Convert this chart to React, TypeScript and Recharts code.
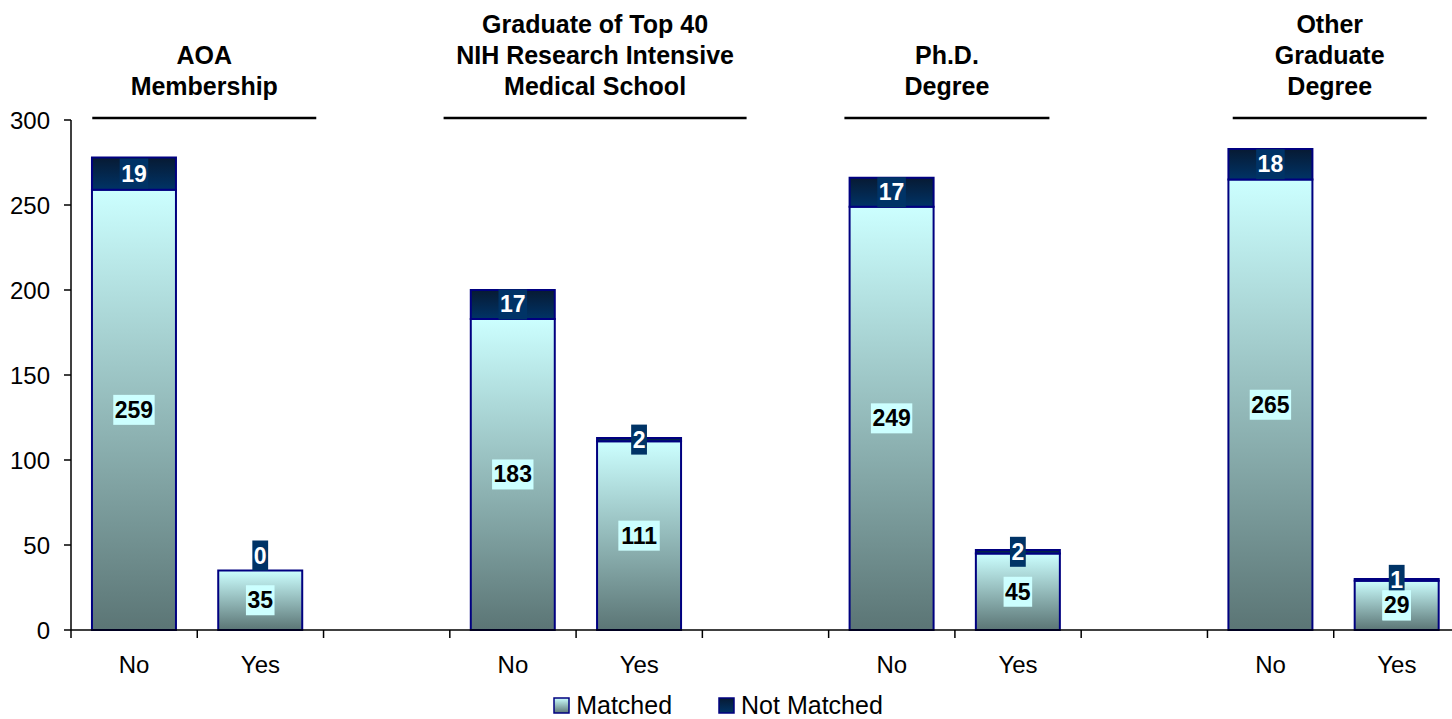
import React from "react";
import { BarChart, Bar, XAxis, YAxis, Legend, LabelList } from "recharts";

// slots: 4 groups of No/Yes, with empty spacer slots between groups
const categories = ["No", "Yes", "", "No", "Yes", "", "No", "Yes", "", "No", "Yes"];
const matched = [259, 35, null, 183, 111, null, 249, 45, null, 265, 29];
const notMatched = [19, 0, null, 17, 2, null, 17, 2, null, 18, 1];
const groupTitles = [
  "AOA\nMembership",
  "",
  "",
  "Graduate of Top 40\nNIH Research Intensive\nMedical School",
  "",
  "",
  "Ph.D.\nDegree",
  "",
  "",
  "Other\nGraduate\nDegree",
  "",
];
const yTicks = [0, 50, 100, 150, 200, 250, 300];

// header placement tweaks (shift from group centre, rule width)
const headerShift: Record<number, number> = { 0: 7, 3: 19, 6: -8, 9: -4 };
const headerRule: Record<number, number> = { 0: 224, 3: 303, 6: 205, 9: 194 };

const CHART_W = 1470;
const CHART_H = 719;
const Y_AXIS_W = 71;
const MARGIN_R = 10;
const TOP_H = 120;
const LEGEND_H = 28;
const X_AXIS_H = 61;
const PLOT_W = CHART_W - Y_AXIS_W - MARGIN_R;
const STEP = PLOT_W / categories.length;
const AXIS_Y = CHART_H - LEGEND_H - X_AXIS_H;
const FONT = "'Liberation Sans', Arial, sans-serif";

const data = categories.map((label, i) => ({
  key: `c${i}`,
  label,
  title: groupTitles[i],
  matched: matched[i],
  notMatched: notMatched[i],
}));

// which category slot a bar centre falls in
const slotOf = (cx: number) => Math.floor((cx - Y_AXIS_W) / STEP);

function BottomTick(props: any) {
  const { x, index } = props;
  const left = x - STEP / 2;
  return (
    <g>
      <line x1={left} x2={left} y1={AXIS_Y} y2={AXIS_Y + 8} stroke="#000" strokeWidth={1.5} />
      {index === categories.length - 1 && (
        <line x1={x + STEP / 2} x2={x + STEP / 2} y1={AXIS_Y} y2={AXIS_Y + 8} stroke="#000" strokeWidth={1.5} />
      )}
      <text x={x} y={AXIS_Y + 43} textAnchor="middle" fontSize={24} fontFamily={FONT} fill="#000">
        {categories[index]}
      </text>
    </g>
  );
}

function HeaderTick(props: any) {
  const { x, index } = props;
  const title = groupTitles[index];
  if (!title) return <g />;
  const cx = x + STEP / 2 + (headerShift[index] ?? 0);
  const lines = title.split("\n");
  const w = headerRule[index] ?? 220;
  return (
    <g>
      {lines.map((ln, k) => (
        <text
          key={k}
          x={cx}
          y={95 - (lines.length - 1 - k) * 31}
          textAnchor="middle"
          fontSize={25}
          fontWeight="bold"
          fontFamily={FONT}
          fill="#000"
        >
          {ln}
        </text>
      ))}
      <line x1={cx - w / 2} x2={cx + w / 2} y1={118} y2={118} stroke="#000" strokeWidth={2.5} />
    </g>
  );
}

function valueBox(cx: number, cy: number, txt: string, bg: string, fg: string) {
  const bw = txt.length * 12.8 + 3;
  const bh = 30;
  return (
    <g>
      <rect x={cx - bw / 2} y={cy - bh / 2} width={bw} height={bh} fill={bg} />
      <text
        x={cx}
        y={cy + 8}
        textAnchor="middle"
        fontSize={23}
        fontWeight="bold"
        fontFamily={FONT}
        fill={fg}
      >
        {txt}
      </text>
    </g>
  );
}

const DARK_BOX = "#003366";
const LIGHT_BOX = "#ccffff";

// matched labels; also draws a zero "not matched" label sitting on top of the bar
function MatchedLabel(props: any) {
  const { x, y, width, height, value } = props;
  if (value === null || value === undefined) return null;
  const cx = x + width / 2;
  const nm = notMatched[slotOf(cx)];
  return (
    <g>
      {valueBox(cx, y + height / 2, String(value), LIGHT_BOX, "#000")}
      {nm === 0 && valueBox(cx, y - 15, "0", DARK_BOX, "#fff")}
    </g>
  );
}

// not matched labels; if one overlaps the matched label below, the matched one stays on top
function NotMatchedLabel(props: any) {
  const { x, y, width, height, value } = props;
  if (value === null || value === undefined || value === 0) return null;
  const cx = x + width / 2;
  const cy = y + height / 2;
  const matchedCy = (y + height + AXIS_Y) / 2;
  const m = matched[slotOf(cx)];
  return (
    <g>
      {valueBox(cx, cy, String(value), DARK_BOX, "#fff")}
      {m != null && Math.abs(matchedCy - cy) < 30 && valueBox(cx, matchedCy, String(m), LIGHT_BOX, "#000")}
    </g>
  );
}

function LegendContent() {
  const items = [
    { name: "Matched", from: "#ccffff", to: "#5b7575" },
    { name: "Not Matched", from: "#071a33", to: "#003366" },
  ];
  return (
    <div
      style={{
        display: "flex",
        justifyContent: "center",
        alignItems: "center",
        height: LEGEND_H,
        paddingRight: 24,
        fontFamily: FONT,
        fontSize: 25,
        color: "#000",
      }}
    >
      {items.map((it, i) => (
        <div key={it.name} style={{ display: "flex", alignItems: "center", marginLeft: i ? 46 : 0 }}>
          <svg width={17} height={17} style={{ marginRight: 6 }}>
            <defs>
              <linearGradient id={`lg${i}`} x1="0" y1="0" x2="0" y2="1">
                <stop offset="0%" stopColor={it.from} />
                <stop offset="100%" stopColor={it.to} />
              </linearGradient>
            </defs>
            <rect x={1} y={1} width={15} height={15} fill={`url(#lg${i})`} stroke="#000080" strokeWidth={1.5} />
          </svg>
          <span>{it.name}</span>
        </div>
      ))}
    </div>
  );
}

export default function App() {
  return (
    <div
      style={{
        position: "absolute",
        left: 0,
        top: 0,
        width: 1452,
        height: CHART_H,
        overflow: "hidden",
        background: "#fff",
      }}
    >
      <BarChart
        width={CHART_W}
        height={CHART_H}
        data={data}
        margin={{ top: 0, right: MARGIN_R, left: 0, bottom: 0 }}
        barCategoryGap="16.6%"
      >
        <defs>
          <linearGradient id="matchedGrad" x1="0" y1="0" x2="0" y2="1">
            <stop offset="0%" stopColor="#ccffff" />
            <stop offset="100%" stopColor="#5b7575" />
          </linearGradient>
          <linearGradient id="notMatchedGrad" x1="0" y1="0" x2="0" y2="1">
            <stop offset="0%" stopColor="#071a33" />
            <stop offset="100%" stopColor="#003366" />
          </linearGradient>
        </defs>
        <XAxis
          xAxisId="top"
          orientation="top"
          dataKey="key"
          height={TOP_H}
          axisLine={false}
          tickLine={false}
          interval={0}
          tick={<HeaderTick />}
        />
        <XAxis
          dataKey="key"
          height={X_AXIS_H}
          interval={0}
          tickLine={false}
          axisLine={{ stroke: "#000", strokeWidth: 1.5 }}
          tick={<BottomTick />}
        />
        <YAxis
          width={Y_AXIS_W}
          domain={[0, 300]}
          ticks={yTicks}
          interval={0}
          tickSize={7}
          tickMargin={14}
          axisLine={{ stroke: "#000", strokeWidth: 1.5 }}
          tickLine={{ stroke: "#000", strokeWidth: 1.5 }}
          tick={{ fill: "#000", fontSize: 24, fontFamily: FONT }}
        />
        <Legend verticalAlign="bottom" height={LEGEND_H} content={<LegendContent />} />
        <Bar
          dataKey="matched"
          name="Matched"
          stackId="a"
          fill="url(#matchedGrad)"
          stroke="#000080"
          strokeWidth={2}
          isAnimationActive={false}
        >
          <LabelList dataKey="matched" content={<MatchedLabel />} />
        </Bar>
        <Bar
          dataKey="notMatched"
          name="Not Matched"
          stackId="a"
          fill="url(#notMatchedGrad)"
          stroke="#000080"
          strokeWidth={2}
          isAnimationActive={false}
        >
          <LabelList dataKey="notMatched" content={<NotMatchedLabel />} />
        </Bar>
      </BarChart>
    </div>
  );
}
